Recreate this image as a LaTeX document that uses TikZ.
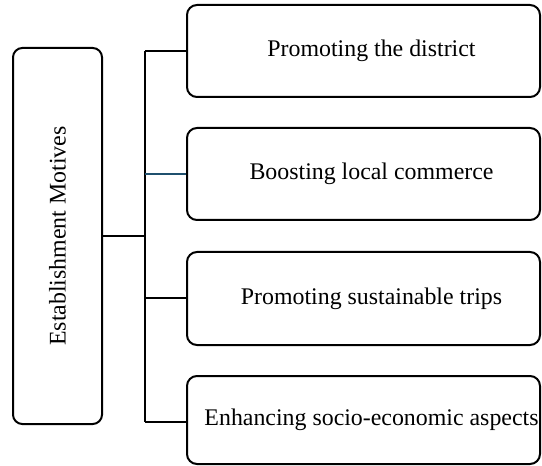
\documentclass[tikz,border=0pt]{standalone}
\usepackage{fontspec}
\setmainfont{Liberation Serif}
\usetikzlibrary{positioning}

\definecolor{branchblue}{RGB}{31,80,110}

\begin{document}
\begin{tikzpicture}[
    x=0.75pt, y=-0.75pt,
    motive/.style={rectangle,draw,rounded corners=7.5pt,line width=1.5pt,
      minimum width=353*0.75pt,inner sep=0pt},
    motivetext/.style={xshift=6pt,font=\fontsize{17.9}{20}\selectfont},
    root/.style={rectangle,draw,rounded corners=7pt,line width=1.5pt,
      minimum width=89*0.75pt,minimum height=376*0.75pt,inner sep=0pt},
    branch/.style={draw,line width=1.5pt},
    trunk/.style={draw,line width=2pt}
  ]
    \useasboundingbox (0,0) rectangle (542,466);

    % Root box, text turned on its side
    \node[root] (motives) at (57.5,236) {};
    \node[rotate=90,font=\fontsize{17.9}{20}\selectfont] (motiveslabel) at (motives.center) {Establishment Motives};

    % Motive boxes
    \node[motive,minimum height=92*0.75pt,label={[motivetext]center:Promoting the district}] (m1) at (363.5,51) {};
    \node[motive,minimum height=92*0.75pt,label={[motivetext]center:Boosting local commerce}] (m2) at (363.5,174) {};
    \node[motive,minimum height=93*0.75pt,label={[motivetext]center:Promoting sustainable trips}] (m3) at (363.5,298.5) {};
    \node[motive,minimum height=88*0.75pt,label={[motivetext]center:Enhancing socio-economic aspects}] (m4) at (363.5,420) {};

    % Trunk
    \coordinate (trunktop) at (145,51);
    \coordinate (trunkbot) at (145,422);
    \draw[trunk] (trunktop) -- (trunkbot);

    % Branches
    \draw[branch] (motives.east) -- (motives.east -| trunktop);
    \draw[branch] (m1.west) -- (m1.west -| trunktop);
    \draw[branch,draw=branchblue] (m2.west) -- (m2.west -| trunktop);
    \draw[branch] (m3.west) -- (m3.west -| trunktop);
    \draw[branch] (trunkbot) -- (trunkbot -| m4.west);
\end{tikzpicture}
\end{document}
